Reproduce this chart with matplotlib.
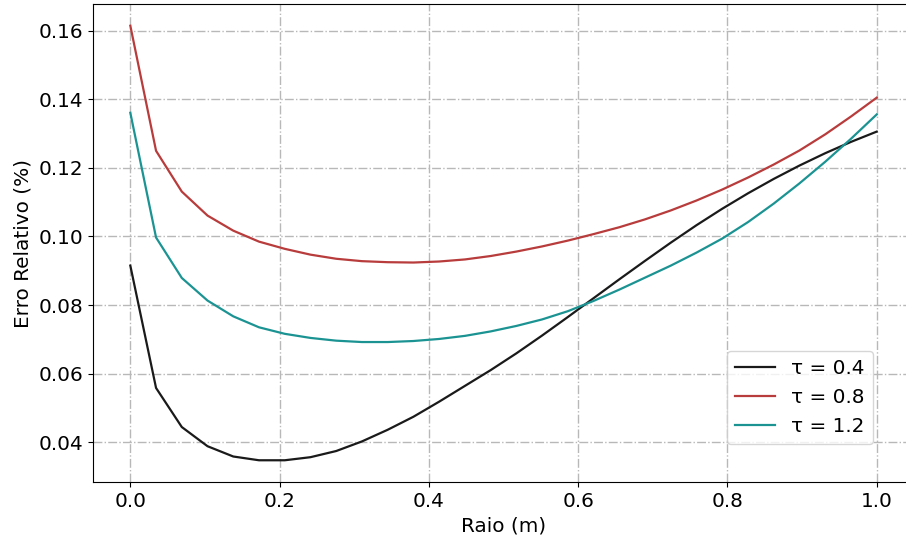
import numpy as np
import matplotlib.pyplot as plt


raio = np.linspace(0, 1, 30)

erro_04 = [0.0915, 0.0558, 0.0444, 0.0388, 0.0358, 0.0347, 0.0347, 0.0356, 0.0374, 0.0402,
           0.0436, 0.0474, 0.0518, 0.0564, 0.0610, 0.0659, 0.0711, 0.0765, 0.0820, 0.0875,
           0.0929, 0.0982, 0.1033, 0.1081, 0.1126, 0.1168, 0.1207, 0.1243, 0.1276, 0.1306]
erro_08 = [0.1615, 0.1250, 0.1131, 0.1061, 0.1017, 0.0985, 0.0964, 0.0947, 0.0935, 0.0928,
           0.0925, 0.0924, 0.0927, 0.0933, 0.0943, 0.0956, 0.0971, 0.0988, 0.1007, 0.1027,
           0.1050, 0.1076, 0.1105, 0.1137, 0.1172, 0.1210, 0.1251, 0.1298, 0.1350, 0.1405]
erro_12 = [0.1361, 0.0997, 0.0879, 0.0813, 0.0767, 0.0735, 0.0716, 0.0704, 0.0696, 0.0692,
           0.0692, 0.0695, 0.0701, 0.0710, 0.0723, 0.0739, 0.0758, 0.0782, 0.0812, 0.0845,
           0.0880, 0.0915, 0.0953, 0.0994, 0.1042, 0.1096, 0.1155, 0.1218, 0.1285, 0.1356]

labels = ['τ = 0.4', 'τ = 0.8', 'τ = 1.2']
cores = ['#1a1a1a', '#b83c3c', '#1c9393']

fig = plt.figure(figsize=(9.06, 5.45), dpi=100)
ax = fig.add_axes([93 / 906, 63 / 545, 821 / 906, 478 / 545])

for serie, lab, cor in zip([erro_04, erro_08, erro_12], labels, cores):
    ax.plot(raio, serie, color=cor, linewidth=1.6, label=lab)

ax.grid(True, linestyle='-.', color='0.72', linewidth=1)
ax.set_xlabel('Raio (m)', fontsize=14.4)
ax.set_ylabel('Erro Relativo (%)', fontsize=14.4)
ax.tick_params(labelsize=14.4)
ax.set_yticks([0.04, 0.06, 0.08, 0.10, 0.12, 0.14, 0.16])

ax.legend(loc='lower right', bbox_to_anchor=(0.950, 0.0795), borderaxespad=0,
          fontsize=14.4)

fig.savefig('out.png', dpi=100)
